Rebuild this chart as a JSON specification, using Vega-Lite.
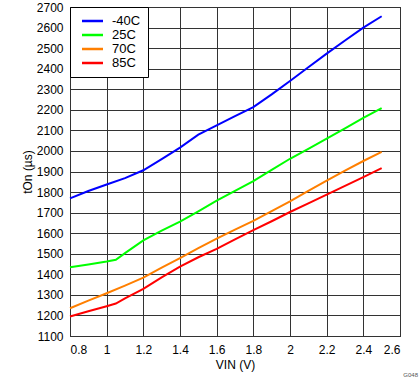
{
  "$schema": "https://vega.github.io/schema/vega-lite/v6.json",
  "width": 330,
  "height": 329,
  "autosize": "none",
  "padding": {"left": 70, "top": 7, "right": 19, "bottom": 46},
  "background": "white",
  "config": {
    "font": "Liberation Sans",
    "view": {"stroke": "black", "strokeWidth": 1},
    "axis": {
      "labelFont": "Liberation Sans",
      "titleFont": "Liberation Sans",
      "labelFontSize": 12,
      "titleFontSize": 12,
      "labelColor": "black",
      "titleColor": "black",
      "titleFontWeight": "normal",
      "grid": true,
      "gridColor": "#333333",
      "gridOpacity": 1,
      "gridWidth": 1,
      "domain": false,
      "ticks": false
    }
  },
  "title": {
    "text": "G048",
    "orient": "bottom",
    "anchor": "end",
    "fontSize": 6,
    "fontWeight": "normal",
    "color": "#555555",
    "offset": 2,
    "dx": 18
  },
  "data": {
    "values": [
      {"vin": 0.8, "ton": 1769, "temp": "-40C"},
      {"vin": 0.9, "ton": 1805, "temp": "-40C"},
      {"vin": 1.0, "ton": 1837, "temp": "-40C"},
      {"vin": 1.1, "ton": 1868, "temp": "-40C"},
      {"vin": 1.2, "ton": 1906, "temp": "-40C"},
      {"vin": 1.3, "ton": 1960, "temp": "-40C"},
      {"vin": 1.4, "ton": 2016, "temp": "-40C"},
      {"vin": 1.5, "ton": 2079, "temp": "-40C"},
      {"vin": 1.6, "ton": 2124, "temp": "-40C"},
      {"vin": 1.7, "ton": 2169, "temp": "-40C"},
      {"vin": 1.8, "ton": 2213, "temp": "-40C"},
      {"vin": 1.9, "ton": 2275, "temp": "-40C"},
      {"vin": 2.0, "ton": 2340, "temp": "-40C"},
      {"vin": 2.1, "ton": 2407, "temp": "-40C"},
      {"vin": 2.2, "ton": 2473, "temp": "-40C"},
      {"vin": 2.3, "ton": 2537, "temp": "-40C"},
      {"vin": 2.4, "ton": 2600, "temp": "-40C"},
      {"vin": 2.5, "ton": 2655, "temp": "-40C"},

      {"vin": 0.8, "ton": 1434, "temp": "25C"},
      {"vin": 0.9, "ton": 1448, "temp": "25C"},
      {"vin": 1.0, "ton": 1462, "temp": "25C"},
      {"vin": 1.05, "ton": 1471, "temp": "25C"},
      {"vin": 1.1, "ton": 1503, "temp": "25C"},
      {"vin": 1.2, "ton": 1565, "temp": "25C"},
      {"vin": 1.3, "ton": 1612, "temp": "25C"},
      {"vin": 1.4, "ton": 1656, "temp": "25C"},
      {"vin": 1.5, "ton": 1706, "temp": "25C"},
      {"vin": 1.6, "ton": 1758, "temp": "25C"},
      {"vin": 1.7, "ton": 1806, "temp": "25C"},
      {"vin": 1.8, "ton": 1853, "temp": "25C"},
      {"vin": 1.9, "ton": 1908, "temp": "25C"},
      {"vin": 2.0, "ton": 1962, "temp": "25C"},
      {"vin": 2.1, "ton": 2010, "temp": "25C"},
      {"vin": 2.2, "ton": 2060, "temp": "25C"},
      {"vin": 2.3, "ton": 2110, "temp": "25C"},
      {"vin": 2.4, "ton": 2161, "temp": "25C"},
      {"vin": 2.5, "ton": 2208, "temp": "25C"},

      {"vin": 0.8, "ton": 1235, "temp": "70C"},
      {"vin": 0.9, "ton": 1272, "temp": "70C"},
      {"vin": 1.0, "ton": 1308, "temp": "70C"},
      {"vin": 1.1, "ton": 1345, "temp": "70C"},
      {"vin": 1.2, "ton": 1384, "temp": "70C"},
      {"vin": 1.3, "ton": 1432, "temp": "70C"},
      {"vin": 1.4, "ton": 1479, "temp": "70C"},
      {"vin": 1.5, "ton": 1527, "temp": "70C"},
      {"vin": 1.6, "ton": 1574, "temp": "70C"},
      {"vin": 1.7, "ton": 1617, "temp": "70C"},
      {"vin": 1.8, "ton": 1660, "temp": "70C"},
      {"vin": 1.9, "ton": 1707, "temp": "70C"},
      {"vin": 2.0, "ton": 1755, "temp": "70C"},
      {"vin": 2.1, "ton": 1806, "temp": "70C"},
      {"vin": 2.2, "ton": 1856, "temp": "70C"},
      {"vin": 2.3, "ton": 1904, "temp": "70C"},
      {"vin": 2.4, "ton": 1951, "temp": "70C"},
      {"vin": 2.5, "ton": 1995, "temp": "70C"},

      {"vin": 0.8, "ton": 1195, "temp": "85C"},
      {"vin": 0.9, "ton": 1220, "temp": "85C"},
      {"vin": 1.0, "ton": 1245, "temp": "85C"},
      {"vin": 1.05, "ton": 1258, "temp": "85C"},
      {"vin": 1.1, "ton": 1283, "temp": "85C"},
      {"vin": 1.2, "ton": 1329, "temp": "85C"},
      {"vin": 1.3, "ton": 1385, "temp": "85C"},
      {"vin": 1.4, "ton": 1437, "temp": "85C"},
      {"vin": 1.5, "ton": 1483, "temp": "85C"},
      {"vin": 1.6, "ton": 1524, "temp": "85C"},
      {"vin": 1.7, "ton": 1570, "temp": "85C"},
      {"vin": 1.8, "ton": 1615, "temp": "85C"},
      {"vin": 1.9, "ton": 1658, "temp": "85C"},
      {"vin": 2.0, "ton": 1703, "temp": "85C"},
      {"vin": 2.1, "ton": 1745, "temp": "85C"},
      {"vin": 2.2, "ton": 1788, "temp": "85C"},
      {"vin": 2.3, "ton": 1830, "temp": "85C"},
      {"vin": 2.4, "ton": 1873, "temp": "85C"},
      {"vin": 2.5, "ton": 1916, "temp": "85C"}
    ]
  },
  "mark": {"type": "line", "strokeWidth": 2},
  "encoding": {
    "x": {
      "field": "vin",
      "type": "quantitative",
      "title": "VIN (V)",
      "scale": {"domain": [0.8, 2.6], "nice": false, "zero": false},
      "axis": {
        "values": [0.8, 1.0, 1.2, 1.4, 1.6, 1.8, 2.0, 2.2, 2.4, 2.6],
        "format": ".1~f",
        "labelPadding": 8,
        "titlePadding": 4
      }
    },
    "y": {
      "field": "ton",
      "type": "quantitative",
      "title": "tOn (µs)",
      "scale": {"domain": [1100, 2700], "nice": false, "zero": false},
      "axis": {
        "values": [1100, 1200, 1300, 1400, 1500, 1600, 1700, 1800, 1900, 2000, 2100, 2200, 2300, 2400, 2500, 2600, 2700],
        "format": "d",
        "labelPadding": 7,
        "titlePadding": 2
      }
    },
    "color": {
      "field": "temp",
      "type": "nominal",
      "sort": ["-40C", "25C", "70C", "85C"],
      "scale": {
        "domain": ["-40C", "25C", "70C", "85C"],
        "range": ["#0000FF", "#00FF00", "#FF7F00", "#FF0000"]
      },
      "legend": {
        "title": null,
        "orient": "top-left",
        "offset": 0,
        "padding": 7,
        "strokeColor": "black",
        "fillColor": "white",
        "symbolType": "M-1.909,0H1.909",
        "symbolSize": 121,
        "symbolStrokeWidth": 2.5,
        "symbolOffset": 8.5,
        "labelFontSize": 13,
        "labelFont": "Liberation Sans",
        "labelColor": "black",
        "labelOffset": 12.5,
        "rowPadding": 0
      }
    }
  }
}
